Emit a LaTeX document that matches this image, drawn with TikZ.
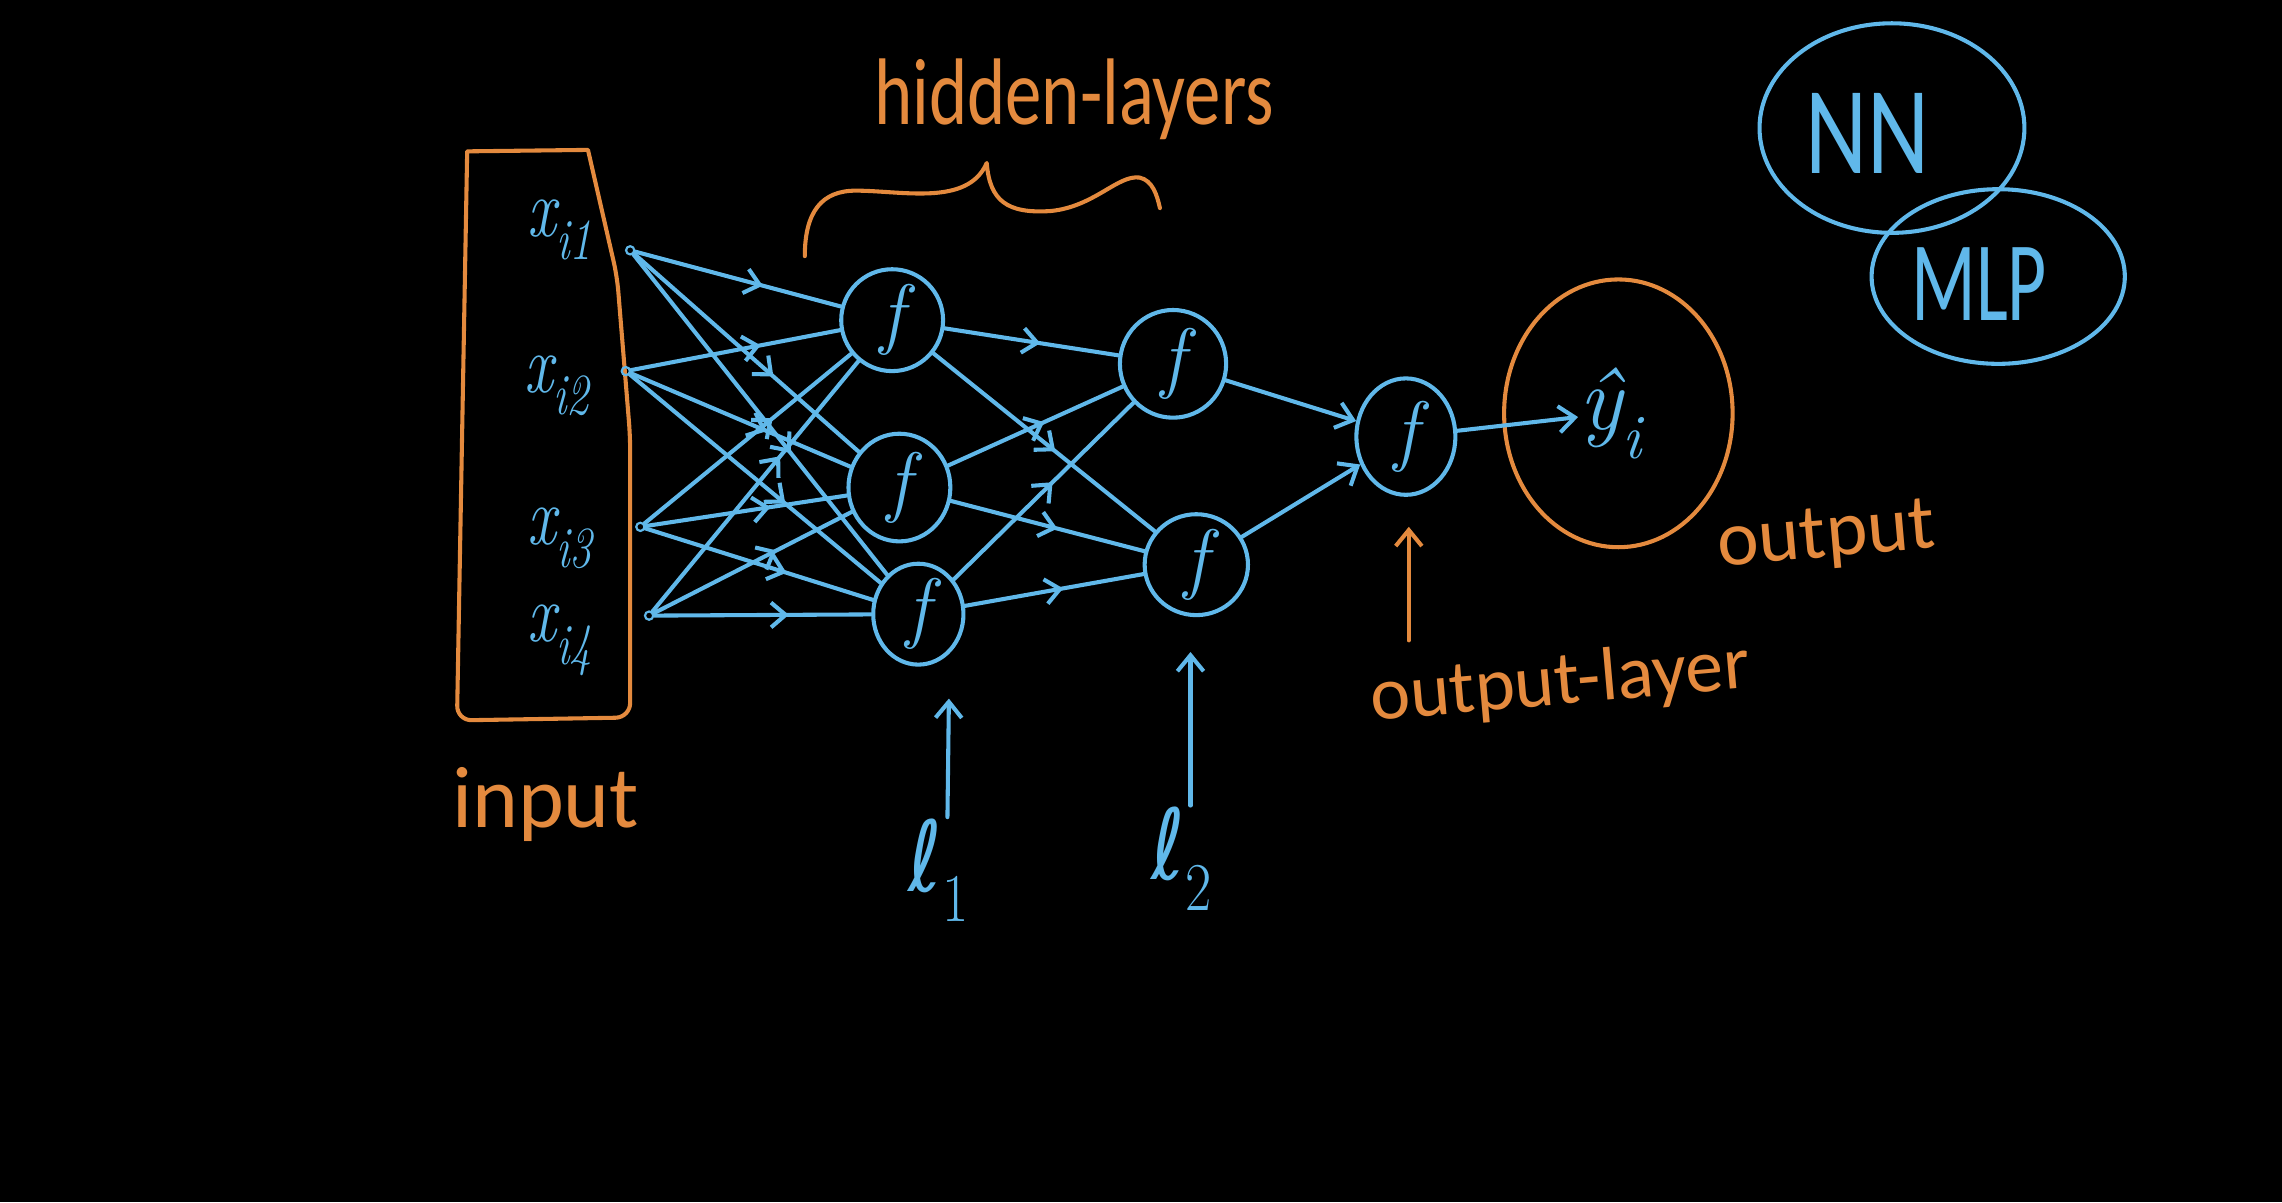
\documentclass[tikz,border=0pt]{standalone}
\usepackage{fontspec}
\newfontfamily\hand{Carlito}
\newfontfamily\ellfont{DejaVu Sans}
\usetikzlibrary{arrows.meta,decorations.markings,shapes.geometric}
\definecolor{blueink}{RGB}{96,184,234}
\definecolor{orangeink}{RGB}{228,138,62}
\newcommand{\hwtall}[2]{\scalebox{1}[#1]{#2}}
\begin{document}
\begin{tikzpicture}[x=1pt,y=-1pt,
  ink/.style={line width=2.8pt, line cap=round, line join=round},
  bl/.style={ink, draw=blueink},
  ol/.style={ink, draw=orangeink},
  tip/.style={-{Straight Barb[length=11pt,width=18pt]}},
  midtip/.style={postaction={decorate},decoration={markings,mark=at position #1 with {\arrow{Straight Barb[length=10pt,width=17pt]}}}},
  midtip/.default=0.6,
  neuron/.style={bl, ellipse, inner sep=0pt, text=blueink, font=\fontsize{54}{54}\selectfont\itshape},
  bluetext/.style={text=blueink, inner sep=1pt},
  orangetext/.style={text=orangeink, inner sep=1pt},
  dot/.style={circle, draw=blueink, line width=1.5pt, inner sep=2pt}
]
\fill[black] (0,0) rectangle (1568,826);
\useasboundingbox (0,0) rectangle (1568,826);

% input box
\draw[ol] (321,104) -- (404,103) [rounded corners=10pt] -- (424,190) -- (433,300) -- (433,493) -- (314,495) [sharp corners] -- cycle;

% input labels
\node[bluetext, font=\fontsize{44}{44}\selectfont\itshape] (x1) at (385,158) {\hwtall{1.3}{x\textsubscript{i1}}};
\node[bluetext, font=\fontsize{44}{44}\selectfont\itshape] (x2) at (383,265) {\hwtall{1.3}{x\textsubscript{i2}}};
\node[bluetext, font=\fontsize{44}{44}\selectfont\itshape] (x3) at (385,370) {\hwtall{1.3}{x\textsubscript{i3}}};
\node[bluetext, font=\fontsize{44}{44}\selectfont\itshape] (x4) at (385,440) {\hwtall{1.3}{x\textsubscript{i4}}};

\node[dot] (i1) at (433,172) {};
\node[dot] (i2) at (430,255) {};
\node[dot] (i3) at (440,362) {};
\node[dot] (i4) at (446,423) {};

% neurons
\node[neuron, minimum width=70pt, minimum height=70pt] (n1) at (613,220) {f};
\node[neuron, minimum width=70pt, minimum height=74pt] (n2) at (618,335) {f};
\node[neuron, minimum width=62pt, minimum height=60pt] (n3) at (631,422) {f};
\node[neuron, minimum width=73pt, minimum height=74pt] (m1) at (806,250) {f};
\node[neuron, minimum width=71pt, minimum height=66pt] (m2) at (822,388) {f};
\node[neuron, minimum width=68pt, minimum height=80pt] (o) at (966,300) {f};

% output circle
\node[ol, ellipse, minimum width=157pt, minimum height=184pt] (yc) at (1112,284) {};
\node[bluetext, font=\fontsize{62}{62}\selectfont\itshape] (yhat) at (1107,284) {ŷ\textsubscript{i}};

% connections
\foreach \a in {i1,i2,i3,i4}
  \foreach \b in {n1,n2,n3}
    \draw[bl, midtip=0.62] (\a) -- (\b);
\foreach \a in {n1,n2,n3}
  \foreach \b in {m1,m2}
    \draw[bl, midtip=0.55] (\a) -- (\b);
\draw[bl, tip] (m1) -- (o);
\draw[bl, tip] (m2) -- (o);
\draw[bl, tip] (o) -- (yhat);

% layer labels
\node[bluetext, font=\fontsize{56}{56}\selectfont] (l1) at (645,598) {\hwtall{1.2}{{\ellfont ℓ}\textsubscript{1}}};
\node[bluetext, font=\fontsize{56}{56}\selectfont] (l2) at (812,590) {\hwtall{1.2}{{\ellfont ℓ}\textsubscript{2}}};
\coordinate (t1) at (652,480);
\coordinate (t2) at (818,448);
\draw[bl, tip] ([xshift=6pt]l1.north) -- (t1);
\draw[bl, tip] ([xshift=6pt]l2.north) -- (t2);

% output layer label
\node[orangetext, font=\hand\fontsize{52}{52}\selectfont, rotate=5] (olab) at (1072,470) {output-layer};
\coordinate (b3) at (968,440);
\coordinate (t3) at (968,362);
\draw[ol, tip] (b3) -- (t3);

\node[orangetext, font=\hand\fontsize{54}{54}\selectfont, rotate=5] (outlab) at (1255,370) {output};

% input label
\node[orangetext, font=\hand\fontsize{60}{60}\selectfont] (inlab) at (375,553) {input};

% hidden layers
\node[orangetext, font=\hand\fontsize{50}{50}\selectfont] (hlab) at (738,68) {\hwtall{1.3}{hidden-layers}};
\draw[ol] (553,176) .. controls (553,145) and (565,131) .. (588,131)
  .. controls (620,131) and (665,142) .. (678,112)
  .. controls (680,138) and (692,147) .. (722,145)
  .. controls (752,142) and (768,120) .. (783,122)
  .. controls (792,124) and (795,134) .. (797,143);

% NN / MLP
\node[bl, ellipse, minimum width=182pt, minimum height=144pt] (nn) at (1300,88) {};
\node[bluetext, font=\hand\fontsize{66}{66}\selectfont] (nnt) at (1283,92) {\hwtall{1.3}{NN}};
\node[bl, ellipse, minimum width=174pt, minimum height=120pt] (mlp) at (1373,190) {};
\node[bluetext, font=\hand\fontsize{52}{52}\selectfont] (mlpt) at (1360,195) {\hwtall{1.5}{MLP}};
\end{tikzpicture}
\end{document}
